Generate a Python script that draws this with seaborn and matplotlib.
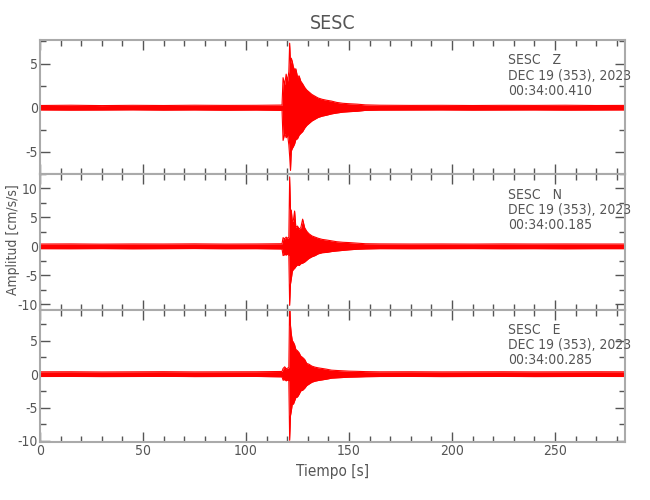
import pandas as pd
import matplotlib
matplotlib.use("Agg")
import matplotlib.pyplot as plt
import seaborn as sns
from matplotlib.ticker import MultipleLocator


# envelope of each trace (peak up / peak down)
t = [0, 15, 30, 45, 60, 75, 90, 105, 117.5,
     118, 118.8, 119.5, 120.2, 120.8, 121.2, 121.6, 122.0, 122.5, 123.0,
     123.6, 124.2, 125.0, 125.8, 126.6, 127.5, 128.5, 129.5, 130.5, 132,
     133.5, 135, 137, 139, 141.5, 144, 147, 150, 154, 158,
     165, 180, 195, 210, 225, 240, 255, 270, 284]

z_up = [0.25, 0.28, 0.24, 0.27, 0.25, 0.28, 0.26, 0.27, 0.3,
        3.4, 2.6, 3.8, 3.0, 4.1, 7.3, 5.0, 5.6, 5.2, 4.6,
        4.3, 4.4, 3.5, 3.6, 3.0, 2.7, 2.3, 2.0, 1.8, 1.5,
        1.3, 1.1, 0.95, 0.85, 0.75, 0.6, 0.5, 0.45, 0.4, 0.32,
        0.28, 0.26, 0.27, 0.25, 0.27, 0.26, 0.28, 0.25, 0.26]
z_lo = [-0.25, -0.27, -0.26, -0.24, -0.27, -0.25, -0.28, -0.26, -0.3,
        -3.7, -2.9, -3.4, -3.1, -4.2, -5.5, -7.1, -4.9, -4.6, -4.4,
        -4.1, -3.6, -3.5, -3.1, -2.9, -2.7, -2.3, -2.0, -1.8, -1.5,
        -1.3, -1.1, -0.95, -0.85, -0.7, -0.6, -0.5, -0.45, -0.4, -0.3,
        -0.27, -0.26, -0.25, -0.27, -0.26, -0.25, -0.27, -0.26, -0.25]

n_up = [0.4, 0.42, 0.38, 0.41, 0.4, 0.43, 0.39, 0.41, 0.45,
        1.5, 1.3, 1.6, 1.4, 1.6, 12.0, 6.4, 6.2, 4.3, 4.5,
        6.1, 3.3, 3.5, 3.0, 3.2, 4.7, 3.2, 2.6, 2.2, 1.8,
        1.6, 1.4, 1.2, 1.1, 0.95, 0.8, 0.7, 0.65, 0.55, 0.45,
        0.42, 0.4, 0.41, 0.39, 0.42, 0.4, 0.41, 0.4, 0.4]
n_lo = [-0.4, -0.41, -0.39, -0.42, -0.4, -0.38, -0.41, -0.4, -0.45,
        -1.6, -1.4, -1.5, -1.3, -1.6, -10.2, -6.5, -5.6, -4.3, -4.0,
        -3.8, -3.5, -3.2, -3.3, -3.0, -2.9, -2.7, -2.4, -2.1, -1.8,
        -1.6, -1.3, -1.1, -1.05, -0.9, -0.8, -0.7, -0.6, -0.5, -0.45,
        -0.4, -0.41, -0.4, -0.39, -0.41, -0.4, -0.42, -0.4, -0.4]

e_up = [0.35, 0.36, 0.33, 0.35, 0.37, 0.34, 0.35, 0.36, 0.4,
        0.85, 1.1, 0.8, 0.9, 1.0, 11.0, 7.3, 6.0, 5.0, 4.8,
        4.4, 3.7, 3.5, 3.2, 2.7, 2.5, 2.2, 1.6, 1.5, 1.2,
        1.05, 0.95, 0.85, 0.75, 0.6, 0.55, 0.5, 0.45, 0.42, 0.38,
        0.35, 0.36, 0.34, 0.35, 0.36, 0.34, 0.35, 0.36, 0.35]
e_lo = [-0.35, -0.34, -0.36, -0.35, -0.33, -0.36, -0.35, -0.34, -0.4,
        -0.9, -0.8, -1.0, -0.85, -1.0, -9.9, -6.2, -5.5, -4.4, -4.5,
        -4.0, -3.5, -3.4, -3.0, -2.5, -2.4, -2.1, -1.7, -1.5, -1.2,
        -1.05, -0.95, -0.85, -0.75, -0.6, -0.55, -0.5, -0.45, -0.42, -0.38,
        -0.35, -0.34, -0.36, -0.35, -0.34, -0.36, -0.35, -0.34, -0.35]

components = ["Z", "N", "E"]
start_times = ["00:34:00.410", "00:34:00.185", "00:34:00.285"]
ylims = [(-7.5, 7.66), (-11.0, 12.5), (-10.15, 9.6)]

sns.set_style("ticks")
plt.rcParams["font.family"] = ["DejaVu Sans"]
plt.rcParams["font.stretch"] = "condensed"
plt.rcParams["font.weight"] = "light"
plt.rcParams["axes.unicode_minus"] = False
plt.rcParams["text.color"] = "#555555"
plt.rcParams["axes.labelcolor"] = "#555555"
plt.rcParams["xtick.color"] = "#555555"
plt.rcParams["ytick.color"] = "#555555"

fig, axes = plt.subplots(3, 1, figsize=(6.5, 5), dpi=100, sharex=True,
                         gridspec_kw={"height_ratios": [134, 136, 132], "hspace": 0})
fig.subplots_adjust(left=40 / 650, right=625 / 650, top=1 - 40 / 500, bottom=1 - 442 / 500)

traces = [(z_up, z_lo), (n_up, n_lo), (e_up, e_lo)]
for ax, comp, stamp, (up, lo), ylim in zip(axes, components, start_times, traces, ylims):
    df = pd.DataFrame({"t": t, "up": up, "lo": lo})
    ax.fill_between(df["t"], df["lo"], df["up"], color="red", lw=0)
    sns.lineplot(data=df, x="t", y="up", ax=ax, color="red", lw=0.8)
    sns.lineplot(data=df, x="t", y="lo", ax=ax, color="red", lw=0.8)
    ax.set_xlim(0, 284)
    ax.set_ylim(*ylim)
    ax.set_xlabel("")
    ax.set_ylabel("")
    ax.xaxis.set_major_locator(MultipleLocator(50))
    ax.xaxis.set_minor_locator(MultipleLocator(10))
    ax.yaxis.set_major_locator(MultipleLocator(5))
    ax.yaxis.set_minor_locator(MultipleLocator(2.5))
    ax.tick_params(which="both", direction="in", top=True, right=True,
                   labelsize=10, color="#555555", pad=1.5)
    ax.tick_params(which="major", length=7, width=1)
    ax.tick_params(which="minor", length=4, width=1)
    for lab in ax.get_xticklabels() + ax.get_yticklabels():
        lab.set_fontstretch("condensed")
    for s in ax.spines.values():
        s.set_color("#aaaaaa")
        s.set_linewidth(1.5)
    ax.text(0.8, 0.9, f"SESC   {comp}\nDEC 19 (353), 2023\n{stamp}",
            transform=ax.transAxes, ha="left", va="top", fontsize=10,
            linespacing=1.1, color="#555555")

axes[0].set_title("SESC", fontsize=14, color="#555555", pad=8)
axes[2].set_xlabel("Tiempo [s]", fontsize=11)
fig.text(13 / 650, 1 - 240 / 500, "Amplitud [cm/s/s]", rotation=90,
         ha="center", va="center", fontsize=10, color="#555555")

plt.savefig("out.png", dpi=100)
